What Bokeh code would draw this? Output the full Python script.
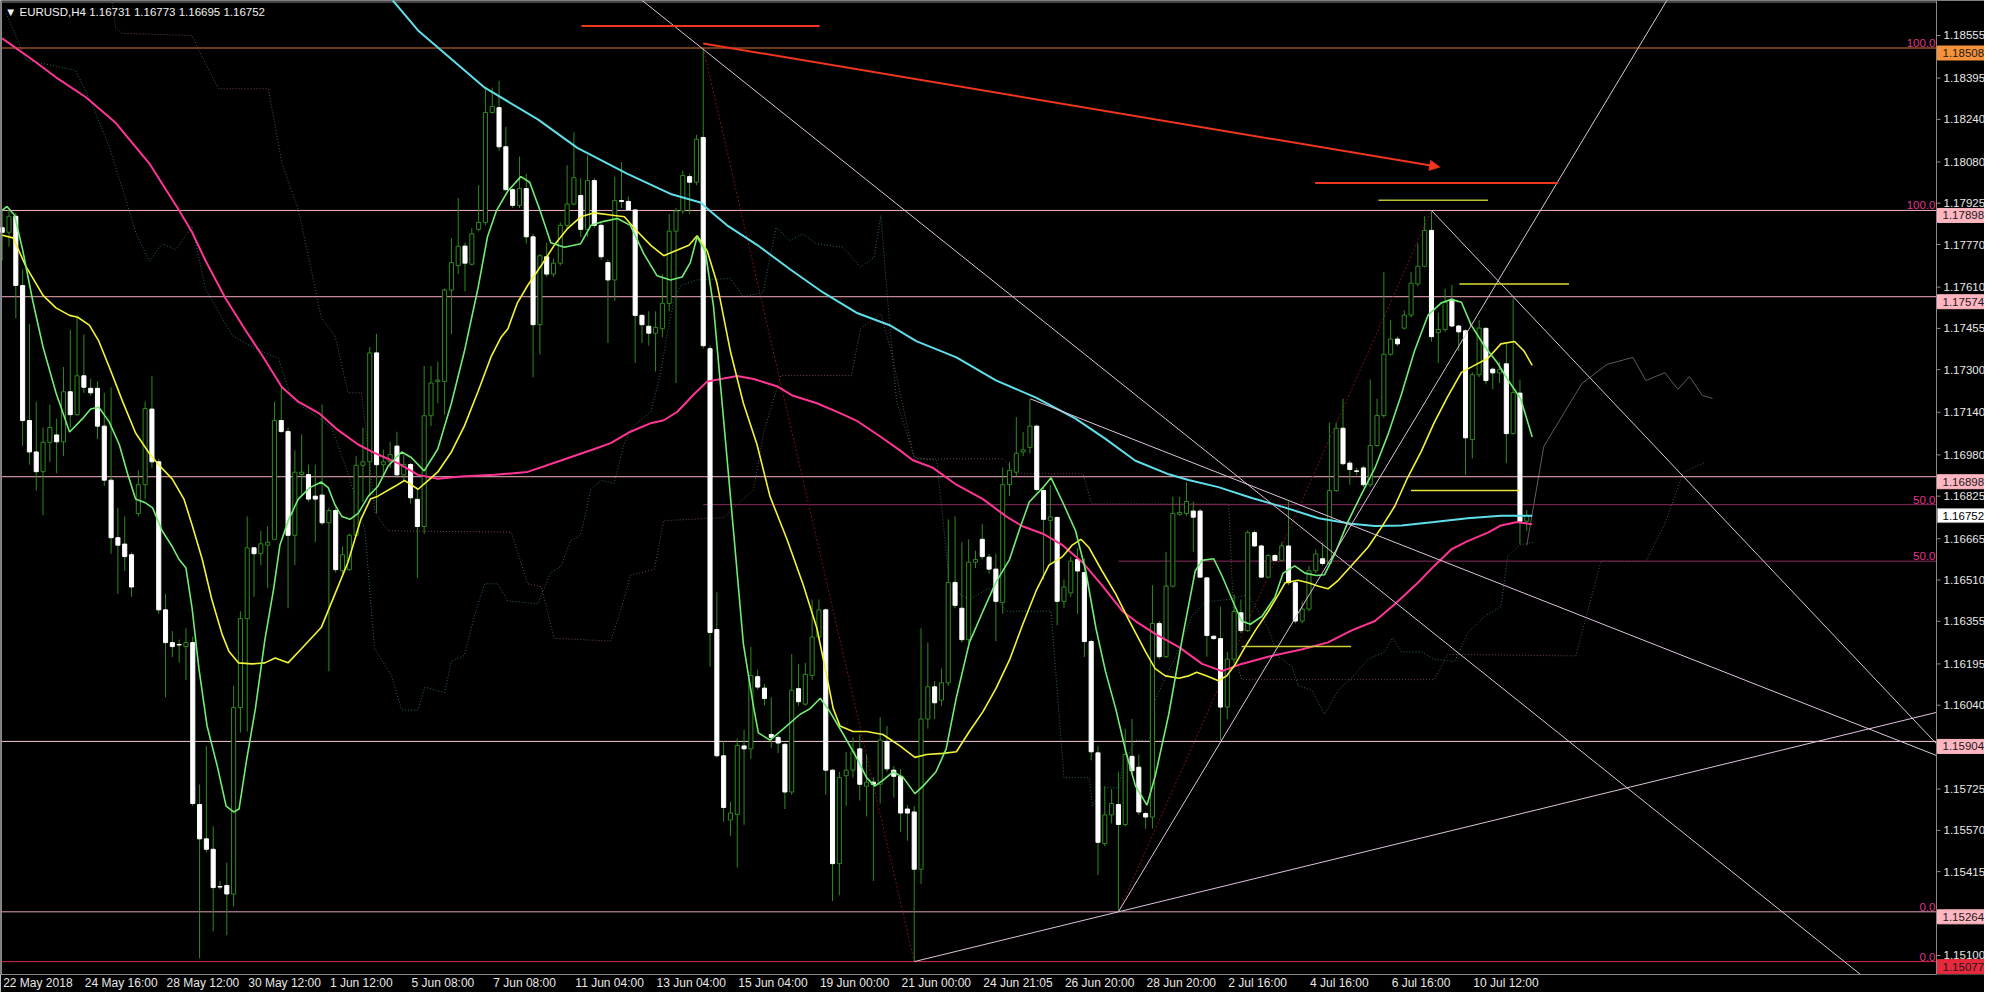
from bokeh.plotting import figure
from bokeh.models import LinearAxis, FixedTicker, Label, Range1d, Arrow, NormalHead, Span
from bokeh.core.properties import value
from bokeh.embed import file_html
from bokeh.resources import INLINE

# ---------------- data (EURUSD H4) ----------------
opens = [
 1.17833, 1.17816, 1.17876, 1.17616, 1.17109, 1.16991, 1.16917, 1.17027, 1.17055, 1.17029,
 1.17217, 1.17131, 1.17277, 1.17230, 1.17230, 1.17088, 1.16885, 1.16669, 1.16645, 1.16605,
 1.16760, 1.16868, 1.17152, 1.16954, 1.16398, 1.16275, 1.16268, 1.16260, 1.16275, 1.15667,
 1.15538, 1.15499, 1.15359, 1.15363, 1.15331, 1.16031, 1.16365, 1.16631, 1.16609, 1.16641,
 1.16663, 1.17109, 1.17068, 1.16678, 1.16906, 1.16906, 1.16825, 1.16829, 1.16725, 1.16771,
 1.16545, 1.16549, 1.16678, 1.16941, 1.16954, 1.17363, 1.16943, 1.16954, 1.17013, 1.16905,
 1.16944, 1.16813, 1.16711, 1.17127, 1.17256, 1.17256, 1.17599, 1.17691, 1.17764, 1.17696,
 1.17827, 1.17853, 1.18266, 1.18284, 1.18137, 1.17976, 1.17917, 1.17980, 1.17799, 1.17469,
 1.17724, 1.17659, 1.17700, 1.17842, 1.17922, 1.17954, 1.17827, 1.18010, 1.17842, 1.17702,
 1.17637, 1.17935, 1.17932, 1.17900, 1.17504, 1.17463, 1.17437, 1.17454, 1.17549, 1.17820,
 1.17896, 1.18025, 1.18004, 1.18172, 1.17379, 1.16324, 1.15850, 1.15609, 1.15630, 1.15887,
 1.15876, 1.16147, 1.16104, 1.15930, 1.15919, 1.15893, 1.15714, 1.16102, 1.16044, 1.16152,
 1.16296, 1.16398, 1.15796, 1.15445, 1.15775, 1.15796, 1.15876, 1.15736, 1.15751, 1.15743,
 1.15904, 1.15796, 1.15773, 1.15650, 1.15639, 1.15424, 1.15988, 1.16109, 1.16059, 1.16124,
 1.16501, 1.16404, 1.16286, 1.16577, 1.16663, 1.16596, 1.16551, 1.16426, 1.16868, 1.16915,
 1.16991, 1.17008, 1.17088, 1.16846, 1.16734, 1.16745, 1.16430, 1.16462, 1.16587, 1.16538,
 1.16279, 1.15861, 1.15520, 1.15628, 1.15667, 1.15592, 1.15848, 1.15807, 1.15633, 1.15620,
 1.16347, 1.16222, 1.16487, 1.16757, 1.16760, 1.16769, 1.16769, 1.16518, 1.16299, 1.16290,
 1.16033, 1.16213, 1.16387, 1.16320, 1.16688, 1.16638, 1.16521, 1.16602, 1.16584, 1.16638,
 1.16500, 1.16356, 1.16401, 1.16545, 1.16590, 1.16572, 1.16846, 1.17080, 1.16949, 1.16920,
 1.16931, 1.16868, 1.17015, 1.17128, 1.17358, 1.17415, 1.17456, 1.17505, 1.17622, 1.17688,
 1.17823, 1.17439, 1.17451, 1.17564, 1.17464, 1.17446, 1.17038, 1.17281, 1.17455, 1.17302,
 1.17288, 1.17322, 1.17060, 1.17212, 1.16731]
highs = [
 1.17900, 1.17900, 1.17890, 1.17676, 1.17471, 1.17180, 1.17083, 1.17169, 1.17116, 1.17310,
 1.17450, 1.17504, 1.17432, 1.17266, 1.17256, 1.17213, 1.17234, 1.16781, 1.16749, 1.16614,
 1.16922, 1.17180, 1.17277, 1.16965, 1.16458, 1.16318, 1.16286, 1.16329, 1.16297, 1.15742,
 1.15887, 1.15585, 1.15380, 1.15449, 1.16113, 1.16393, 1.16749, 1.16635, 1.16695, 1.16712,
 1.17180, 1.17234, 1.17083, 1.16997, 1.17057, 1.16943, 1.16943, 1.17169, 1.16782, 1.16782,
 1.16635, 1.16685, 1.16975, 1.17083, 1.17385, 1.17435, 1.17000, 1.17030, 1.17067, 1.16981,
 1.16950, 1.16851, 1.17314, 1.17314, 1.17330, 1.17605, 1.17795, 1.17945, 1.17777, 1.17831,
 1.17993, 1.18359, 1.18359, 1.18385, 1.18212, 1.17982, 1.18100, 1.18036, 1.17810, 1.17734,
 1.17777, 1.17717, 1.17853, 1.18068, 1.18191, 1.18019, 1.18105, 1.18019, 1.17853, 1.17713,
 1.18025, 1.18079, 1.17950, 1.17900, 1.17508, 1.17519, 1.17519, 1.17659, 1.17885, 1.17907,
 1.18047, 1.18036, 1.18182, 1.18508, 1.17390, 1.16464, 1.15904, 1.15678, 1.15915, 1.15947,
 1.16259, 1.16173, 1.16120, 1.16070, 1.15930, 1.15898, 1.16232, 1.16195, 1.16199, 1.16437,
 1.16437, 1.16404, 1.15801, 1.15790, 1.15865, 1.15919, 1.15930, 1.15855, 1.15768, 1.15995,
 1.15962, 1.15811, 1.15801, 1.15665, 1.15661, 1.16329, 1.16275, 1.16131, 1.16178, 1.16738,
 1.16749, 1.16652, 1.16663, 1.16620, 1.16721, 1.16609, 1.16609, 1.16932, 1.16954, 1.17122,
 1.17066, 1.17191, 1.17094, 1.16857, 1.16868, 1.16749, 1.16512, 1.16598, 1.16631, 1.16592,
 1.16286, 1.15887, 1.15736, 1.15725, 1.15790, 1.15952, 1.15988, 1.15855, 1.15640, 1.16491,
 1.16356, 1.16616, 1.16823, 1.16823, 1.16877, 1.16805, 1.16778, 1.16521, 1.16302, 1.16410,
 1.16240, 1.16455, 1.16437, 1.16697, 1.16697, 1.16643, 1.16608, 1.16608, 1.16652, 1.16805,
 1.16510, 1.16428, 1.16563, 1.16625, 1.16652, 1.17101, 1.17101, 1.17191, 1.16958, 1.16931,
 1.16940, 1.17263, 1.17191, 1.17666, 1.17487, 1.17424, 1.17523, 1.17666, 1.17774, 1.17876,
 1.17898, 1.17514, 1.17604, 1.17618, 1.17469, 1.17451, 1.17290, 1.17487, 1.17460, 1.17308,
 1.17330, 1.17397, 1.17568, 1.17263, 1.16773]
lows = [
 1.17710, 1.17762, 1.17493, 1.17014, 1.16943, 1.16846, 1.16753, 1.16954, 1.16911, 1.16975,
 1.17083, 1.17127, 1.17213, 1.17202, 1.17040, 1.16863, 1.16609, 1.16458, 1.16544, 1.16447,
 1.16749, 1.16814, 1.16932, 1.16383, 1.16070, 1.16221, 1.16200, 1.16135, 1.15661, 1.15089,
 1.15488, 1.15191, 1.15348, 1.15176, 1.15283, 1.15937, 1.15941, 1.16447, 1.16566, 1.16480,
 1.16663, 1.17062, 1.16404, 1.16566, 1.16825, 1.16803, 1.16652, 1.16717, 1.16167, 1.16538,
 1.16534, 1.16545, 1.16674, 1.16803, 1.16825, 1.16760, 1.16900, 1.16930, 1.16894, 1.16880,
 1.16797, 1.16517, 1.16683, 1.17088, 1.17174, 1.17131, 1.17433, 1.17659, 1.17594, 1.17691,
 1.17820, 1.17842, 1.18262, 1.18122, 1.17971, 1.17907, 1.17907, 1.17773, 1.17271, 1.17357,
 1.17648, 1.17648, 1.17691, 1.17831, 1.17917, 1.17799, 1.17799, 1.17831, 1.17713, 1.17400,
 1.17558, 1.17907, 1.17896, 1.17325, 1.17400, 1.17390, 1.17293, 1.17422, 1.17519, 1.17250,
 1.17885, 1.17885, 1.17993, 1.17379, 1.16184, 1.15844, 1.15602, 1.15548, 1.15430, 1.15591,
 1.15839, 1.16098, 1.16040, 1.15880, 1.15860, 1.15650, 1.15704, 1.16038, 1.16038, 1.16135,
 1.16286, 1.15704, 1.15305, 1.15326, 1.15661, 1.15768, 1.15682, 1.15622, 1.15380, 1.15671,
 1.15790, 1.15693, 1.15564, 1.15531, 1.15077, 1.15369, 1.15952, 1.15988, 1.16038, 1.16113,
 1.16404, 1.16275, 1.16275, 1.16555, 1.16587, 1.16534, 1.16281, 1.16383, 1.16825, 1.16900,
 1.16975, 1.16986, 1.16842, 1.16512, 1.16566, 1.16340, 1.16404, 1.16447, 1.16383, 1.16221,
 1.15833, 1.15402, 1.15510, 1.15596, 1.15264, 1.15585, 1.15779, 1.15628, 1.15576, 1.15576,
 1.16213, 1.16218, 1.16482, 1.16751, 1.16751, 1.16616, 1.16518, 1.16222, 1.16285, 1.15908,
 1.15988, 1.16195, 1.16311, 1.16315, 1.16634, 1.16518, 1.16518, 1.16581, 1.16581, 1.16491,
 1.16347, 1.16347, 1.16392, 1.16536, 1.16563, 1.16563, 1.16841, 1.16940, 1.16868, 1.16904,
 1.16859, 1.16859, 1.17011, 1.17119, 1.17352, 1.17388, 1.17451, 1.17496, 1.17613, 1.17684,
 1.17406, 1.17325, 1.17442, 1.17460, 1.17370, 1.16904, 1.16967, 1.17272, 1.17245, 1.17227,
 1.17250, 1.16949, 1.17056, 1.16643, 1.16695]
closes = [
 1.17816, 1.17876, 1.17616, 1.17109, 1.16991, 1.16917, 1.17027, 1.17083, 1.17029, 1.17217,
 1.17131, 1.17277, 1.17234, 1.17213, 1.17088, 1.16885, 1.16669, 1.16641, 1.16598, 1.16484,
 1.16868, 1.17154, 1.16954, 1.16398, 1.16275, 1.16260, 1.16266, 1.16275, 1.15671, 1.15538,
 1.15499, 1.15355, 1.15357, 1.15331, 1.16031, 1.16365, 1.16631, 1.16609, 1.16646, 1.16652,
 1.17109, 1.17068, 1.16678, 1.16915, 1.16915, 1.16814, 1.16814, 1.16725, 1.16771, 1.16549,
 1.16605, 1.16678, 1.16941, 1.16954, 1.17363, 1.16943, 1.16954, 1.16981, 1.16905, 1.16944,
 1.16819, 1.16711, 1.17127, 1.17250, 1.17261, 1.17599, 1.17702, 1.17764, 1.17700, 1.17810,
 1.17853, 1.18266, 1.18288, 1.18137, 1.17976, 1.17917, 1.17980, 1.17799, 1.17469, 1.17728,
 1.17659, 1.17700, 1.17842, 1.17922, 1.18021, 1.17827, 1.18010, 1.17842, 1.17724, 1.17637,
 1.17935, 1.17932, 1.17900, 1.17504, 1.17469, 1.17437, 1.17459, 1.17549, 1.17820, 1.17896,
 1.18029, 1.18004, 1.18165, 1.17390, 1.16313, 1.15850, 1.15656, 1.15635, 1.15889, 1.15876,
 1.16151, 1.16108, 1.16065, 1.15919, 1.15898, 1.15714, 1.16096, 1.16053, 1.16156, 1.16296,
 1.16398, 1.15796, 1.15445, 1.15768, 1.15796, 1.15865, 1.15743, 1.15751, 1.15743, 1.15909,
 1.15801, 1.15773, 1.15635, 1.15635, 1.15424, 1.15988, 1.16109, 1.16049, 1.16124, 1.16501,
 1.16415, 1.16286, 1.16577, 1.16587, 1.16598, 1.16551, 1.16430, 1.16868, 1.16922, 1.16986,
 1.16999, 1.17088, 1.16850, 1.16738, 1.16747, 1.16430, 1.16484, 1.16581, 1.16544, 1.16279,
 1.15865, 1.15525, 1.15628, 1.15671, 1.15592, 1.15855, 1.15794, 1.15639, 1.15620, 1.16347,
 1.16222, 1.16487, 1.16760, 1.16764, 1.16805, 1.16746, 1.16521, 1.16302, 1.16290, 1.16033,
 1.16213, 1.16392, 1.16320, 1.16688, 1.16638, 1.16521, 1.16602, 1.16584, 1.16638, 1.16500,
 1.16356, 1.16401, 1.16545, 1.16608, 1.16572, 1.16846, 1.17080, 1.16947, 1.16925, 1.16918,
 1.16868, 1.17015, 1.17128, 1.17358, 1.17415, 1.17397, 1.17505, 1.17625, 1.17688, 1.17823,
 1.17424, 1.17451, 1.17553, 1.17464, 1.17442, 1.17044, 1.17281, 1.17456, 1.17259, 1.17288,
 1.17300, 1.17060, 1.17214, 1.16731, 1.16752]

# moving averages: (bar, price)
ma_green = [(0,1.17898),(0.7,1.17913),(1.8,1.17881),(3.0,1.17751),(4.5,1.17557),(6.0,1.17385),(7.9,1.17213),
 (9.9,1.17066),(11.8,1.17116),(13.0,1.17152),(14.2,1.17159),(15.7,1.17105),(17.2,1.17019),(18.4,1.16911),
 (19.6,1.16814),(21.1,1.16799),(22.1,1.16781),(23.5,1.16695),(25.0,1.16635),(26.0,1.16587),(27.0,1.16555),
 (27.9,1.16404),(28.9,1.16178),(30.1,1.15962),(31.6,1.15811),(32.9,1.15661),(34.0,1.15639),(34.8,1.15650),
 (35.9,1.15833),(37.2,1.16027),(38.6,1.16286),(39.9,1.16480),(40.8,1.16641),(42.1,1.16738),(43.5,1.16814),
 (45.2,1.16857),(46.9,1.16878),(47.9,1.16857),(48.9,1.16792),(49.9,1.16749),(51.1,1.16738),(52.3,1.16760),
 (53.8,1.16825),(55.2,1.16862),(56.7,1.16938),(58.7,1.16991),(60.1,1.16970),(62.0,1.16920),(64.0,1.17002),
 (66.0,1.17174),(67.9,1.17368),(69.9,1.17605),(71.3,1.17799),(72.6,1.17896),(74.3,1.17971),(76.2,1.18025),
 (77.5,1.18004),(79.2,1.17885),(80.6,1.17777),(82.6,1.17760),(85.0,1.17773),(86.5,1.17842),(88.4,1.17857),
 (90.4,1.17868),(92.3,1.17842),(94.3,1.17734),(96.2,1.17653),(98.2,1.17637),(99.9,1.17648),(101.1,1.17702),
 (102.1,1.17799),(103.3,1.17745),(104.5,1.17540),(106.0,1.17110),(107.5,1.16679),(108.9,1.16270),
 (110.4,1.16033),(111.1,1.15936),(112.8,1.15909),(114.8,1.15952),(117.2,1.16005),(118.7,1.16027),
 (120.2,1.16066),(121.6,1.16016),(123.6,1.15930),(125.5,1.15844),(127.0,1.15768),(128.2,1.15736),
 (129.4,1.15758),(130.9,1.15790),(132.4,1.15768),(134.1,1.15708),(135.3,1.15736),(137.2,1.15790),
 (138.7,1.15876),(140.2,1.16070),(142.1,1.16275),(144.1,1.16393),(146.0,1.16501),(148.0,1.16587),
 (149.4,1.16695),(150.9,1.16803),(152.9,1.16857),(154.1,1.16894),(155.8,1.16803),(157.7,1.16695),
 (159.2,1.16544),(160.7,1.16329),(162.1,1.16167),(163.6,1.16027),(165.1,1.15865),(166.5,1.15737),
 (168.2,1.15665),(169.4,1.15773),(171.4,1.16006),(173.4,1.16293),(175.3,1.16545),(176.3,1.16584),
 (178.0,1.16590),(179.2,1.16527),(180.7,1.16437),(182.1,1.16356),(183.4,1.16344),(185.1,1.16374),
 (187.0,1.16446),(188.2,1.16536),(189.9,1.16563),(191.4,1.16536),(193.1,1.16527),(194.3,1.16530),
 (195.8,1.16608),(197.8,1.16733),(199.7,1.16832),(201.7,1.16931),(203.6,1.17056),(205.6,1.17209),
 (207.5,1.17370),(209.5,1.17505),(211.4,1.17550),(212.9,1.17564),(214.4,1.17553),(215.8,1.17469),
 (217.8,1.17388),(219.7,1.17325),(221.2,1.17263),(223.1,1.17191),(224.8,1.17047)]
ma_yellow = [(0,1.17805),(1.6,1.17795),(3.5,1.17687),(6.0,1.17579),(7.9,1.17532),(9.9,1.17504),(11.1,1.17497),
 (12.8,1.17467),(14.2,1.17407),(15.9,1.17299),(17.7,1.17180),(19.6,1.17062),(21.6,1.16986),(23.0,1.16943),
 (25.0,1.16889),(26.7,1.16814),(27.9,1.16717),(29.4,1.16587),(30.8,1.16437),(32.3,1.16307),(33.3,1.16243),
 (34.7,1.16199),(36.7,1.16195),(38.6,1.16199),(40.1,1.16217),(42.0,1.16199),(44.0,1.16253),(46.9,1.16333),
 (48.9,1.16458),(50.8,1.16577),(52.7,1.16738),(54.1,1.16814),(55.2,1.16825),(57.7,1.16862),(59.1,1.16884),
 (61.1,1.16851),(62.6,1.16884),(64.0,1.16916),(66.0,1.16991),(67.9,1.17088),(69.9,1.17217),(71.8,1.17347),
 (73.3,1.17422),(74.3,1.17454),(75.7,1.17551),(77.2,1.17616),(79.2,1.17691),(81.1,1.17767),(83.1,1.17831),
 (85.0,1.17874),(87.0,1.17889),(89.4,1.17881),(91.4,1.17874),(93.3,1.17820),(95.3,1.17767),(97.2,1.17728),
 (99.2,1.17749),(100.9,1.17767),(102.1,1.17803),(103.6,1.17745),(105.0,1.17627),(107.0,1.17368),
 (108.9,1.17174),(110.9,1.17019),(112.8,1.16825),(115.3,1.16663),(117.7,1.16491),(119.7,1.16329),
 (121.1,1.16156),(122.1,1.16027),(123.1,1.15962),(125.0,1.15941),(127.0,1.15941),(129.4,1.15930),
 (131.9,1.15887),(134.1,1.15844),(135.8,1.15855),(138.2,1.15859),(140.2,1.15865),(142.1,1.15941),
 (144.1,1.16016),(146.0,1.16102),(148.0,1.16210),(149.9,1.16340),(151.9,1.16469),(153.8,1.16566),
 (155.8,1.16598),(157.2,1.16641),(158.5,1.16663),(159.7,1.16631),(161.6,1.16544),(163.6,1.16458),
 (165.5,1.16361),(168.0,1.16240),(169.4,1.16177),(170.9,1.16150),(172.9,1.16141),(174.3,1.16150),
 (175.5,1.16164),(177.0,1.16150),(178.7,1.16132),(179.9,1.16150),(181.2,1.16195),(182.6,1.16258),
 (184.1,1.16320),(186.0,1.16392),(187.5,1.16455),(188.5,1.16500),(190.4,1.16509),(191.9,1.16500),
 (193.4,1.16487),(194.8,1.16477),(196.3,1.16509),(198.2,1.16563),(200.7,1.16634),(202.6,1.16706),
 (204.6,1.16787),(206.5,1.16895),(208.5,1.16993),(210.4,1.17101),(212.4,1.17200),(214.4,1.17290),
 (216.3,1.17316),(218.3,1.17343),(220.2,1.17397),(222.2,1.17406),(223.6,1.17370),(224.8,1.17316)]
ma_pink = [(0,1.18544),(4.5,1.18463),(7.9,1.18398),(12.3,1.18323),(16.7,1.18226),(21.6,1.18075),(26.0,1.17898),
 (27.9,1.17816),(29.9,1.17708),(32.8,1.17568),(35.7,1.17450),(38.2,1.17353),(41.1,1.17234),(43.5,1.17180),
 (46.5,1.17137),(49.4,1.17072),(52.3,1.17019),(54.8,1.16986),(58.2,1.16948),(61.1,1.16905),(64.0,1.16890),
 (67.4,1.16899),(72.3,1.16905),(77.2,1.16916),(82.1,1.16959),(87.0,1.17002),(89.4,1.17024),(92.3,1.17067),
 (95.3,1.17099),(97.2,1.17110),(99.2,1.17142),(101.6,1.17207),(103.6,1.17256),(106.0,1.17267),
 (108.0,1.17276),(110.4,1.17265),(113.8,1.17238),(116.2,1.17202),(119.7,1.17174),(123.1,1.17137),
 (125.5,1.17109),(128.9,1.17051),(131.9,1.16997),(133.8,1.16960),(136.7,1.16932),(140.2,1.16868),
 (144.1,1.16814),(147.5,1.16749),(149.9,1.16712),(152.9,1.16684),(155.8,1.16641),(158.7,1.16577),
 (161.6,1.16490),(164.6,1.16393),(166.5,1.16356),(169.4,1.16308),(172.9,1.16258),(176.3,1.16195),
 (179.2,1.16168),(182.1,1.16195),(186.0,1.16222),(190.9,1.16249),(194.8,1.16276),(198.2,1.16320),
 (201.7,1.16356),(204.6,1.16419),(208.0,1.16500),(210.4,1.16563),(212.9,1.16625),(215.3,1.16656),
 (218.3,1.16688),(220.2,1.16715),(222.6,1.16728),(224.8,1.16719)]
ma_cyan = [(50.0,1.18908),(57.4,1.18686),(61.1,1.18574),(65.0,1.18488),(70.9,1.18359),(78.7,1.18240),
 (84.5,1.18133),(91.8,1.18036),(98.2,1.17960),(102.6,1.17928),(104.0,1.17896),(106.5,1.17842),
 (110.9,1.17769),(115.8,1.17676),(120.6,1.17590),(125.5,1.17514),(130.4,1.17467),(134.3,1.17407),
 (140.2,1.17346),(146.0,1.17260),(151.9,1.17195),(157.7,1.17116),(162.1,1.17040),(166.5,1.16958),
 (171.4,1.16907),(174.3,1.16886),(178.7,1.16859),(183.6,1.16818),(188.5,1.16782),(193.4,1.16742),
 (198.2,1.16721),(201.7,1.16713),(205.6,1.16715),(210.4,1.16728),(215.3,1.16742),(220.2,1.16751),
 (224.8,1.16751)]

# ichimoku-style dotted lines
ichi_teal = [(0.6,1.18638),(3.5,1.18463),(10.8,1.18424),(13.3,1.18290),(15.7,1.18139),(18.1,1.17945),
 (19.6,1.17816),(21.6,1.17708),(23.5,1.17773),(25.5,1.17751),(27.9,1.17838),(29.9,1.17601),(33.8,1.17428),
 (36.7,1.17385),(40.6,1.17342),(42.5,1.17191),(48.4,1.17083),(50.8,1.16911),(53.3,1.16695),(54.7,1.16253),
 (57.2,1.16151),(58.7,1.16022),(61.1,1.16022),(62.1,1.16108),(65.0,1.16087),(66.0,1.16205),(67.9,1.16227),
 (69.4,1.16377),(70.9,1.16496),(72.8,1.16496),(74.3,1.16431),(78.7,1.16421),(80.6,1.16539),(82.1,1.16561),
 (83.5,1.16657),(85.0,1.16679),(86.5,1.16851),(88.0,1.16884),(89.9,1.16873),(91.4,1.17024),(92.8,1.17088),
 (95.3,1.17142),(96.7,1.17282),(97.7,1.17433),(98.7,1.17562),(99.7,1.17616),(102.1,1.17637),(107.0,1.17642),
 (108.9,1.17573),(111.8,1.17591),(113.7,1.17835),(115.7,1.17785),(117.6,1.17810),(119.6,1.17773),
 (123.5,1.17760),(126.1,1.17685),(128.1,1.17722),(129.1,1.17879),(130.1,1.17560),(131.4,1.17184),
 (134.0,1.16971),(137.3,1.16959),(138.2,1.16746),(139.2,1.16480),(142.1,1.16437),(145.0,1.16480),
 (147.5,1.16393),(154.1,1.16393),(156.0,1.15768),(159.7,1.15768),(160.2,1.15661),(161.6,1.15730),
 (164.1,1.15730),(164.6,1.15811),(166.5,1.15908),(168.5,1.15908),(169.4,1.16060),(172.4,1.16222),
 (174.8,1.16374),(176.8,1.16428),(180.2,1.16437),(183.1,1.16455),(186.0,1.16329),(187.5,1.16222),
 (189.5,1.16186),(190.4,1.16114),(192.4,1.16096),(194.3,1.16006),(196.3,1.16096),(198.2,1.16141),
 (200.7,1.16213),(203.1,1.16240),(204.3,1.16293),(205.6,1.16240),(208.5,1.16240),(210.4,1.16213),
 (213.4,1.16204),(215.3,1.16311),(217.8,1.16374),(220.2,1.16410),(221.2,1.16598),(223.1,1.16643),
 (225.1,1.16652)]
ichi_brown = [(16.0,1.18700),(16.7,1.18585),(17.6,1.18563),(27.9,1.18555),(28.9,1.18499),(31.8,1.18355),
 (39.1,1.18355),(41.1,1.18075),(43.5,1.17902),(45.5,1.17665),(46.9,1.17493),(48.9,1.17428),(50.8,1.17213),
 (52.8,1.17213),(54.8,1.16760),(56.7,1.16695),(74.8,1.16690),(77.2,1.16496),(79.2,1.16485),(81.1,1.16291),
 (89.4,1.16281),(90.9,1.16399),(92.3,1.16528),(95.8,1.16550),(97.2,1.16733),(106.0,1.16744),
 (110.4,1.16851),(111.9,1.17067),(112.4,1.17109),(114.4,1.17278),(124.8,1.17278),(126.1,1.17454),
 (129.1,1.17510),(130.7,1.17360),(134.0,1.16965),(147.1,1.16965),(149.0,1.16909),(158.8,1.16909),
 (160.1,1.16796),(180.2,1.16796),(180.7,1.16509),(181.2,1.16222),(182.1,1.16136),(210.4,1.16136),
 (212.4,1.16231),(231.2,1.16225),(234.9,1.16580),(241.5,1.16580),(244.3,1.16722),(247.0,1.16914),
 (250.0,1.16950)]
ichi_grey = [(224.0,1.16640),(226.5,1.17012),(232.1,1.17248),(235.8,1.17320),(239.6,1.17346),(241.5,1.17259),
 (244.3,1.17289),(246.2,1.17226),(247.9,1.17274),(249.8,1.17203),(251.3,1.17192)]

# horizontal levels, boxes and fib labels
level_prices = [1.18508, 1.17898, 1.17574, 1.16898, 1.15904, 1.15264, 1.15077]
level_colors = ["#d9772c", "#f6b2c0", "#f2aabb", "#f6b2c0", "#f3ccd6", "#e2a4b6", "#dc2a44"]
box_fills = ["#f7923a", "#ffb6c1", "#ffb6c1", "#ffb6c1", "#ffb6c1", "#ffb6c1", "#e8283c"]
current_price = 1.16752
fib_texts = ["100.0", "100.0", "50.0", "50.0", "0.0", "0.0"]
fib_prices = [1.18508, 1.17898, 1.16793, 1.16581, 1.15264, 1.15077]
fib50_start = [103, 164]
fib50_prices = [1.16793, 1.16581]
fib_diag_x0 = [103, 164]
fib_diag_y0 = [1.18508, 1.15264]
fib_diag_x1 = [134, 210]
fib_diag_y1 = [1.15077, 1.17898]

# trend lines (bar, price) endpoints
trend_x0 = [90.0, 151.1, 134.0, 164.0, 210.0]
trend_y0 = [1.18769, 1.17190, 1.15077, 1.15264, 1.17898]
trend_x1 = [290.0, 284.2, 284.2, 250.0, 284.2]
trend_y1 = [1.14682, 1.15851, 1.16013, 1.18917, 1.15895]

red_x0 = [85.1, 192.9]
red_x1 = [120.1, 228.6]
red_y = [1.18591, 1.18001]
arrow_start = (103.0, 1.18525)
arrow_end = (211.2, 1.18061)

yel_x0 = [202.2, 214.1, 207.0, 182.1]
yel_x1 = [218.3, 230.2, 222.9, 198.2]
yel_y = [1.17936, 1.17622, 1.16846, 1.16260]
yel_colors = ["#b8c232", "#dede3a", "#e4e43a", "#cccc36"]

price_ticks = [1.18555, 1.18395, 1.18240, 1.18080, 1.17925, 1.17770, 1.17610, 1.17455, 1.17300, 1.17140,
               1.16980, 1.16825, 1.16665, 1.16510, 1.16355, 1.16195, 1.16040, 1.15725, 1.15570, 1.15415,
               1.15100]
time_tick_bars = [0, 12, 24, 36, 48, 60, 72, 84, 96, 108, 120, 132, 144, 156, 168, 180, 192, 204, 216]
time_tick_labels = ["22 May 2018", "24 May 16:00", "28 May 12:00", "30 May 12:00", "1 Jun 12:00",
                    "5 Jun 08:00", "7 Jun 08:00", "11 Jun 04:00", "13 Jun 04:00", "15 Jun 04:00",
                    "19 Jun 00:00", "21 Jun 00:00", "24 Jun 21:05", "26 Jun 20:00", "28 Jun 20:00",
                    "2 Jul 16:00", "4 Jul 16:00", "6 Jul 16:00", "10 Jul 12:00"]
header_text = "\u25bc EURUSD,H4  1.16731 1.16773 1.16695 1.16752"

# ---------------- layout constants ----------------
FRAME_WIDTH, FRAME_HEIGHT = 1984, 974
FONT = "Liberation Sans"
TIME_FONT_PX = 12
X0, X1 = -0.25, 284.2           # candle area (left edge .. price-axis line)
AXIS_PX = 1936                  # pixels from left edge to the price-axis line
PX_PER_BAR = AXIS_PX / (X1 - X0)
XE = X1 + (FRAME_WIDTH - AXIS_PX) / PX_PER_BAR   # frame extends over the price-axis strip
PRICE_PER_PX = 3.7554e-5
Y1 = 1.186864                   # price at the top edge
Y0 = Y1 - FRAME_HEIGHT * PRICE_PER_PX

def px(n):
    return n / PX_PER_BAR

# width of label text (Liberation Sans metrics, 1/1000 em) to left-align time labels at their bar
CHAR_W = {" ": 278, ":": 278, "M": 833, "a": 556, "y": 500, "J": 500, "u": 556, "n": 556, "l": 222}
def text_w(s, size):
    return sum(CHAR_W.get(c, 556) for c in s) * size / 1000.0

p = figure(frame_width=FRAME_WIDTH, frame_height=FRAME_HEIGHT, output_backend="svg", toolbar_location=None,
           x_range=Range1d(X0, XE), y_range=Range1d(Y0, Y1),
           x_axis_location=None, y_axis_location=None,
           background_fill_color="#000000", border_fill_color="#000000",
           min_border_left=0, min_border_top=0, min_border_right=0, min_border_bottom=0)
p.outline_line_color = None
p.grid.grid_line_color = None

tick_pos = [b + px(text_w(s, TIME_FONT_PX) / 2 + 1) for b, s in zip(time_tick_bars, time_tick_labels)]
xa = LinearAxis(ticker=FixedTicker(ticks=tick_pos),
                major_label_overrides={t: s for t, s in zip(tick_pos, time_tick_labels)})
xa.bounds = (X0, X1)
xa.axis_line_color = "#8a8a8a"
xa.major_tick_line_color = None
xa.major_tick_out = 0
xa.major_tick_in = 0
xa.minor_tick_line_color = None
xa.major_label_text_color = "#e8e8e8"
xa.major_label_text_font = FONT
xa.major_label_text_font_size = f"{TIME_FONT_PX}px"
xa.major_label_standoff = 1
p.add_layout(xa, "below")

# frame borders and price-axis line
p.add_layout(Span(location=X0 + px(1), dimension="height", line_color="#8a8a8a", line_width=1))
p.add_layout(Span(location=X1, dimension="height", line_color="#8a8a8a", line_width=1))
p.segment(x0=[X0], y0=[Y1 - PRICE_PER_PX * 1.5], x1=[X1], y1=[Y1 - PRICE_PER_PX * 1.5],
          line_color="#8a8a8a", line_width=1)

# ichimoku dotted lines (behind everything)
p.line([a for a, b in ichi_teal], [b for a, b in ichi_teal], line_color="#2b6565", line_width=1, line_dash="1 2")
p.line([a for a, b in ichi_brown], [b for a, b in ichi_brown], line_color="#6e4654", line_width=1, line_dash="1 2")
p.line([a for a, b in ichi_grey], [b for a, b in ichi_grey], line_color="#5c5c5c", line_width=1)

# horizontal levels
n_lv = len(level_prices)
p.segment(x0=[X0] * n_lv, y0=level_prices, x1=[X1] * n_lv, y1=level_prices, line_color=level_colors, line_width=1)
p.segment(x0=fib50_start, y0=fib50_prices, x1=[X1, X1], y1=fib50_prices, line_color="#8c2a5c", line_width=1)
p.segment(x0=fib_diag_x0, y0=fib_diag_y0, x1=fib_diag_x1, y1=fib_diag_y1, line_color="#7a1212",
          line_width=1, line_dash="2 2")

# candles
idx = list(range(len(closes)))
bull = [i for i in idx if closes[i] >= opens[i]]
bear = [i for i in idx if closes[i] < opens[i]]
p.segment(x0=idx, y0=lows, x1=idx, y1=highs, line_color="#2f8a1f", line_width=1)
p.vbar(x=bull, width=0.6, top=[closes[i] for i in bull], bottom=[opens[i] for i in bull],
       fill_color="#000000", line_color="#2f8a1f", line_width=1)
p.vbar(x=bear, width=0.6, top=[opens[i] for i in bear], bottom=[closes[i] for i in bear],
       fill_color="#ffffff", line_color="#ffffff", line_width=1)

# moving averages
p.line([a for a, b in ma_cyan], [b for a, b in ma_cyan], line_color="#5fdfe9", line_width=2)
p.line([a for a, b in ma_pink], [b for a, b in ma_pink], line_color="#ff3596", line_width=2)
p.line([a for a, b in ma_yellow], [b for a, b in ma_yellow], line_color="#f4f436", line_width=1.6)
p.line([a for a, b in ma_green], [b for a, b in ma_green], line_color="#72ec72", line_width=1.6)

# trend lines
p.segment(x0=trend_x0, y0=trend_y0, x1=trend_x1, y1=trend_y1, line_color="#dcc4dc", line_width=1)

# red lines + arrow
p.segment(x0=red_x0, y0=red_y, x1=red_x1, y1=red_y, line_color="#f0361c", line_width=2)
p.add_layout(Arrow(end=NormalHead(size=10, fill_color="#f0361c", line_color="#f0361c"),
                   x_start=arrow_start[0], y_start=arrow_start[1], x_end=arrow_end[0], y_end=arrow_end[1],
                   line_color="#f0361c", line_width=2))

# yellow short lines
p.segment(x0=yel_x0, y0=yel_y, x1=yel_x1, y1=yel_y, line_color=yel_colors, line_width=1.5)

# fib labels
p.text(x=[X1] * len(fib_texts), y=fib_prices, text=fib_texts, x_offset=-1, y_offset=-1,
       text_align="right", text_baseline="bottom", text_color="#e0358f",
       text_font=value(FONT), text_font_size=value("11.5px"))

# price axis: ticks and labels
n_t = len(price_ticks)
p.segment(x0=[X1] * n_t, y0=price_ticks, x1=[X1 + px(4)] * n_t, y1=price_ticks, line_color="#8a8a8a", line_width=1)
p.text(x=[X1 + px(7)] * n_t, y=price_ticks, text=[f"{v:.5f}" for v in price_ticks],
       text_align="left", text_baseline="middle", text_color="#e8e8e8",
       text_font=value(FONT), text_font_size=value("11.5px"))

# price boxes on the axis strip
box_w = FRAME_WIDTH - AXIS_PX - 1
box_y = [pr - 5 * PRICE_PER_PX for pr in level_prices]
box_cx = X1 + px(1 + box_w / 2)
p.rect(x=[box_cx] * n_lv, y=box_y, width=box_w, height=14, width_units="screen", height_units="screen",
       fill_color=box_fills, line_color=box_fills)
p.text(x=[X1 + px(6)] * n_lv, y=box_y, text=[f"{v:.5f}" for v in level_prices],
       text_align="left", text_baseline="middle", text_color="#1a1a1a",
       text_font=value(FONT), text_font_size=value("11.5px"))
p.rect(x=[box_cx], y=[current_price], width=box_w, height=14, width_units="screen", height_units="screen",
       fill_color="#ffffff", line_color="#9a9a9a")
p.text(x=[X1 + px(6)], y=[current_price], text=[f"{current_price:.5f}"],
       text_align="left", text_baseline="middle", text_color="#000000",
       text_font=value(FONT), text_font_size=value("11.5px"))

# header
p.add_layout(Label(x=0.4, y=1.18645, text=header_text, text_align="left", text_baseline="middle",
                   text_color="#f0f0f0", text_font=FONT, text_font_size="11.5px"))

open("out.html", "w").write(file_html(p, INLINE))
